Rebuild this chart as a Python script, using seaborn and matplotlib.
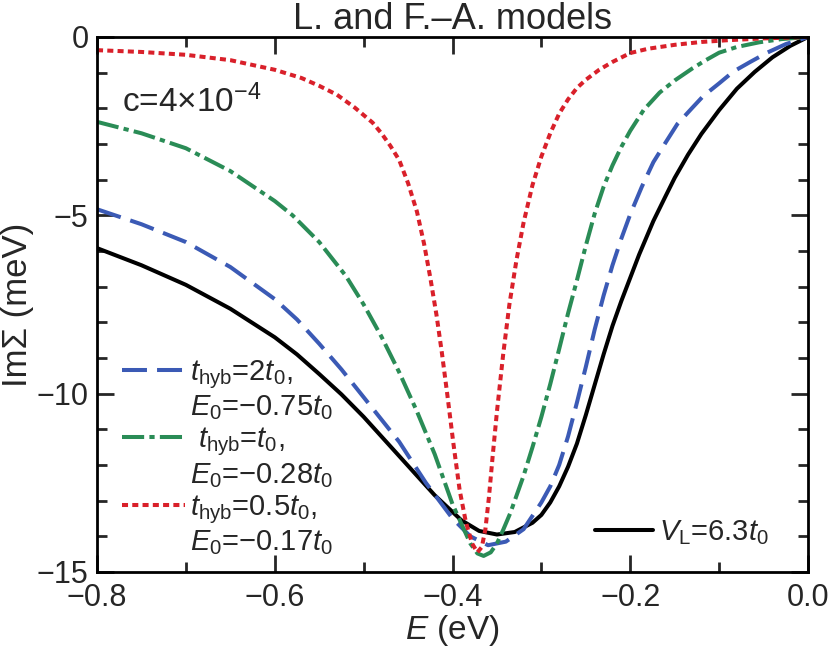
import seaborn as sns
import matplotlib.pyplot as plt
from matplotlib.lines import Line2D
from matplotlib.ticker import MultipleLocator

# valores (E em eV, Im Sigma em meV)
e_vl = [-0.80, -0.75, -0.70, -0.65, -0.60, -0.575, -0.55, -0.525, -0.50, -0.46,
        -0.42, -0.39, -0.37, -0.35, -0.33, -0.31, -0.30, -0.29, -0.28, -0.27,
        -0.26, -0.25, -0.24, -0.23, -0.22, -0.21, -0.20, -0.19, -0.174, -0.16,
        -0.15, -0.135, -0.12, -0.10, -0.08, -0.06, -0.04, -0.02, 0.0]
im_vl = [-5.92, -6.40, -6.95, -7.62, -8.42, -8.90, -9.45, -10.02, -10.65, -11.75,
         -12.85, -13.55, -13.85, -13.95, -13.88, -13.62, -13.40, -13.05, -12.60, -12.05,
         -11.40, -10.60, -9.75, -8.90, -8.10, -7.40, -6.75, -6.10, -5.16, -4.45,
         -3.95, -3.30, -2.72, -2.05, -1.45, -0.98, -0.57, -0.25, 0.0]

e_blue = [-0.80, -0.75, -0.70, -0.65, -0.60, -0.575, -0.55, -0.525, -0.50, -0.46,
          -0.43, -0.40, -0.38, -0.36, -0.34, -0.32, -0.30, -0.29, -0.28, -0.27,
          -0.26, -0.25, -0.24, -0.23, -0.22, -0.21, -0.20, -0.187, -0.174, -0.16,
          -0.147, -0.13, -0.118, -0.10, -0.084, -0.065, -0.046, -0.025, 0.0]
im_blue = [-4.83, -5.25, -5.75, -6.45, -7.35, -7.92, -8.60, -9.32, -10.10, -11.35,
           -12.50, -13.50, -14.00, -14.25, -14.15, -13.80, -13.05, -12.60, -12.00, -11.20,
           -10.25, -9.25, -8.20, -7.25, -6.40, -5.65, -4.97, -4.20, -3.51, -2.95,
           -2.44, -1.98, -1.66, -1.30, -0.97, -0.70, -0.44, -0.20, 0.0]

e_green = [-0.80, -0.75, -0.70, -0.65, -0.60, -0.58, -0.55, -0.52, -0.50, -0.48,
           -0.46, -0.44, -0.42, -0.40, -0.38, -0.372, -0.365, -0.357, -0.35, -0.343,
           -0.335, -0.32, -0.31, -0.30, -0.29, -0.28, -0.27, -0.26, -0.25, -0.24,
           -0.23, -0.22, -0.21, -0.20, -0.185, -0.167, -0.15, -0.13, -0.115, -0.10,
           -0.08, -0.055, -0.03, 0.0]
im_green = [-2.38, -2.70, -3.12, -3.76, -4.60, -5.00, -5.75, -6.70, -7.50, -8.40,
            -9.40, -10.50, -11.70, -13.10, -14.20, -14.48, -14.55, -14.45, -14.20, -13.82,
            -13.35, -12.30, -11.50, -10.65, -9.73, -8.75, -7.75, -6.82, -5.85, -4.95,
            -4.20, -3.60, -3.08, -2.63, -2.05, -1.56, -1.22, -0.88, -0.65, -0.44,
            -0.28, -0.15, -0.06, 0.0]

e_red = [-0.80, -0.75, -0.70, -0.65, -0.60, -0.57, -0.55, -0.53, -0.51, -0.49,
         -0.48, -0.47, -0.46, -0.45, -0.44, -0.432, -0.425, -0.418, -0.412, -0.406,
         -0.399, -0.392, -0.385, -0.378, -0.372, -0.367, -0.363, -0.359, -0.355, -0.35,
         -0.343, -0.336, -0.328, -0.32, -0.31, -0.30, -0.29, -0.28, -0.27, -0.26,
         -0.25, -0.235, -0.22, -0.20, -0.18, -0.15, -0.12, -0.09, -0.05, 0.0]
im_red = [-0.37, -0.42, -0.50, -0.65, -0.92, -1.15, -1.37, -1.62, -1.98, -2.40,
          -2.70, -3.05, -3.45, -4.10, -4.90, -5.80, -6.75, -7.80, -8.85, -10.00,
          -11.40, -12.70, -13.60, -14.20, -14.45, -14.30, -13.80, -12.90, -11.80, -10.50,
          -8.90, -7.50, -6.25, -5.20, -4.15, -3.35, -2.70, -2.15, -1.75, -1.43,
          -1.20, -0.92, -0.70, -0.45, -0.33, -0.22, -0.14, -0.09, -0.04, 0.0]

cor_azul = '#3b5ab5'
cor_verde = '#2a8c56'
cor_vermelho = '#d9202a'

tr_azul = (6.2, 2.5)
tr_verde = (5.5, 1.3, 1.3, 1.3)
tr_vermelho = (1.5, 1.05)

sns.set_style('ticks')
plt.rcParams['font.family'] = ['Liberation Sans', 'DejaVu Sans']
plt.rcParams['mathtext.fontset'] = 'custom'
plt.rcParams['mathtext.rm'] = 'Liberation Sans'
plt.rcParams['mathtext.it'] = 'Liberation Sans:italic'
plt.rcParams['mathtext.bf'] = 'Liberation Sans:bold'

fig = plt.figure(figsize=(8.3, 6.51), dpi=100)
ax = fig.add_axes([0.1169, 0.1214, 0.8566, 0.8218])

lw = 2.9
sns.lineplot(x=e_vl, y=im_vl, ax=ax, color='black', lw=lw, estimator=None)
sns.lineplot(x=e_blue, y=im_blue, ax=ax, color=cor_azul, lw=lw, estimator=None)
ax.lines[-1].set_dashes(tr_azul)
sns.lineplot(x=e_green, y=im_green, ax=ax, color=cor_verde, lw=lw, estimator=None)
ax.lines[-1].set_dashes(tr_verde)
sns.lineplot(x=e_red, y=im_red, ax=ax, color=cor_vermelho, lw=lw, estimator=None)
ax.lines[-1].set_dashes(tr_vermelho)

ax.set_xlim(-0.8, 0.0)
ax.set_ylim(-15, 0)
ax.xaxis.set_major_locator(MultipleLocator(0.2))
ax.xaxis.set_minor_locator(MultipleLocator(0.1))
ax.yaxis.set_major_locator(MultipleLocator(5))
ax.yaxis.set_minor_locator(MultipleLocator(1))
ax.xaxis.set_major_formatter(plt.FuncFormatter(lambda v, p: f'{v:.1f}'.replace('-', '\u2212')))
ax.tick_params(which='both', direction='in', top=True, right=True, width=2, labelsize=22)
ax.tick_params(axis='x', pad=8)
ax.tick_params(axis='y', pad=6)
ax.tick_params(which='major', length=12)
ax.tick_params(which='minor', length=7)
for s in ax.spines.values():
    s.set_linewidth(2)
    s.set_color('black')

ax.set_xlabel('$E$ (eV)', fontsize=24, labelpad=0)
ax.set_ylabel('Im\u03a3 (meV)', fontsize=25, labelpad=2)
ax.set_title('L. and F.\u2013A. models', fontsize=26, pad=6)

ax.text(0.035, 0.86, r'c=4$\times$10$^{-4}$', transform=ax.transAxes, fontsize=24)

vazio = Line2D([], [], color='none')
handles = [Line2D([], [], color=cor_azul, lw=lw, dashes=tr_azul), vazio,
           Line2D([], [], color=cor_verde, lw=lw, dashes=tr_verde), vazio,
           Line2D([], [], color=cor_vermelho, lw=lw, dashes=tr_vermelho), vazio]
labels = [r'$t_{\rm hyb}$=2$t_0$,', '$E_0$=\u22120.75$t_0$',
          r' $t_{\rm hyb}$=$t_0$,', '$E_0$=\u22120.28$t_0$',
          r'$t_{\rm hyb}$=0.5$t_0$,', '$E_0$=\u22120.17$t_0$']
leg1 = ax.legend(handles, labels, loc='upper left', bbox_to_anchor=(0.035, 0.40),
                 frameon=False, fontsize=21, handlelength=2.15, handletextpad=0.2,
                 labelspacing=0.1, borderpad=0, borderaxespad=0)
ax.add_artist(leg1)
ax.legend([Line2D([], [], color='black', lw=lw)], [r'$V_{\rm L}$=6.3$t_0$'],
          loc='upper left', bbox_to_anchor=(0.70, 0.10), frameon=False, fontsize=21,
          handlelength=2.0, handletextpad=0.2, borderpad=0, borderaxespad=0)

fig.savefig('out.png', dpi=100)
